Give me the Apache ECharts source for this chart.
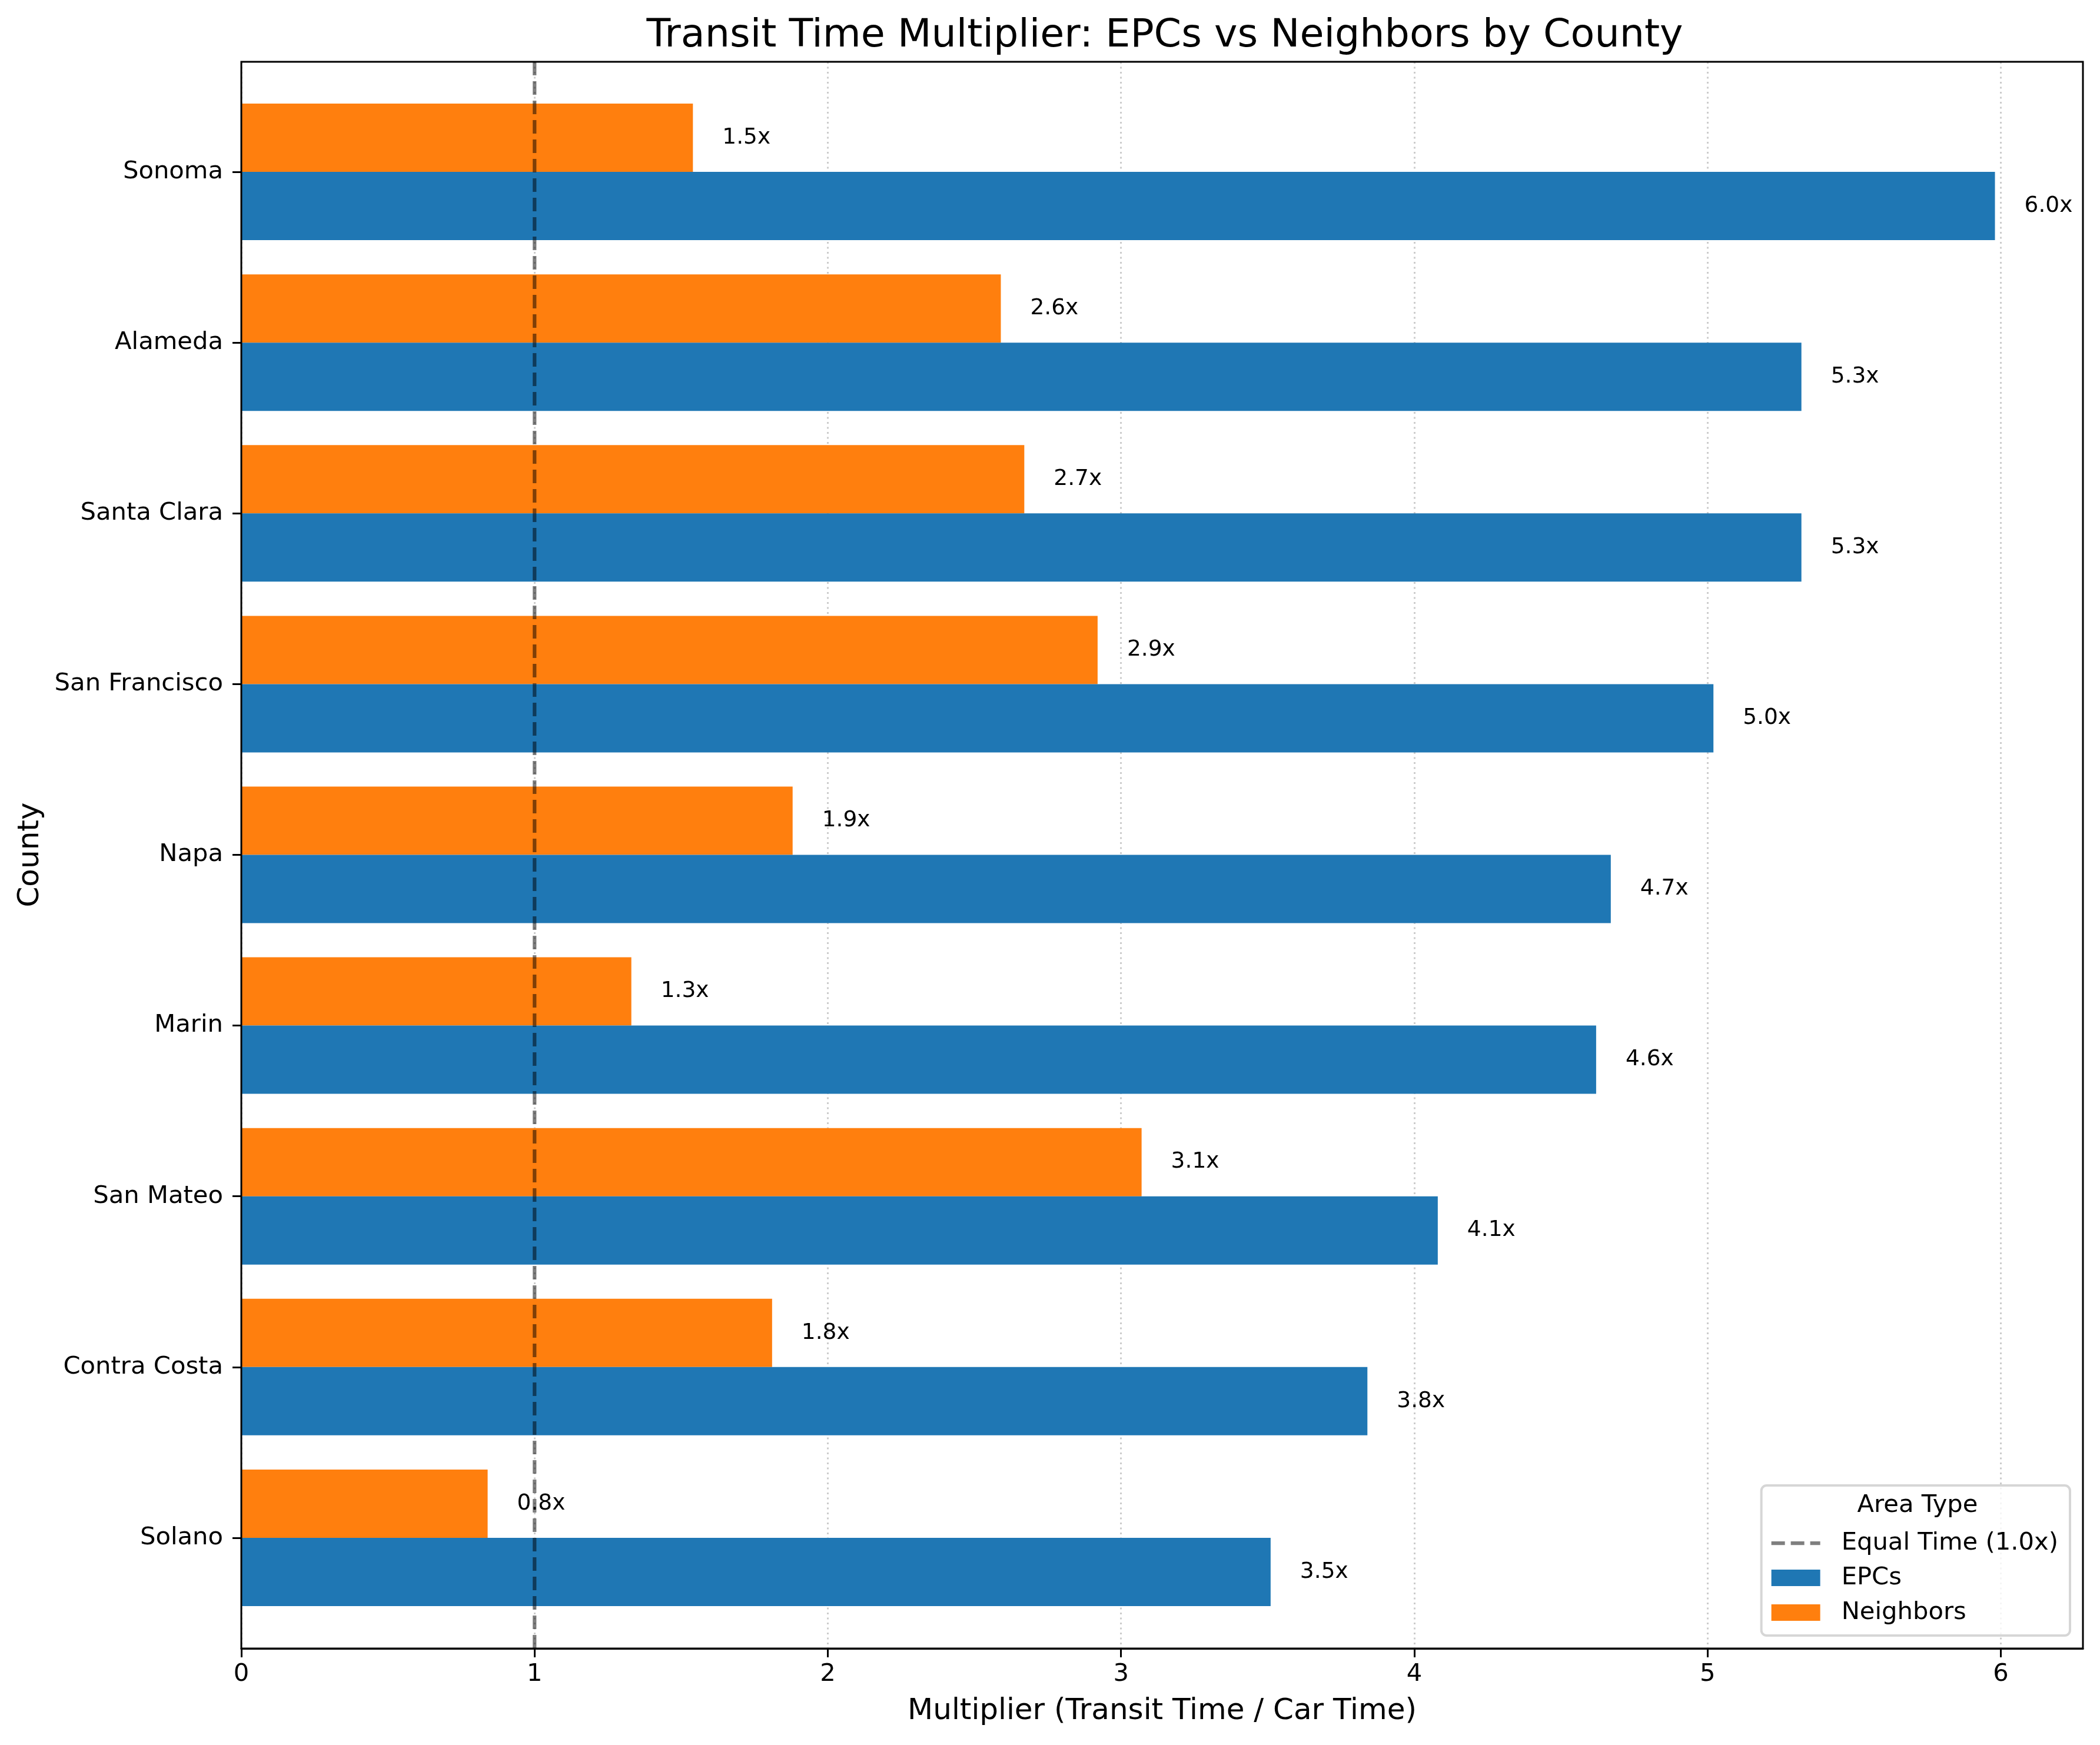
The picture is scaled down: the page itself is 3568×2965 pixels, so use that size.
<!DOCTYPE html>
<html>
<head>
<meta charset="utf-8">
<title>Transit Time Multiplier</title>
<script src="https://cdn.jsdelivr.net/npm/echarts@6/dist/echarts.min.js"></script>
<style>
  html, body { margin: 0; padding: 0; background: #fff; }
  #main { width: 3568px; height: 2965px; }
</style>
</head>
<body>
<div id="main"></div>
<script>
// data, top to bottom
var counties = ['Sonoma', 'Alameda', 'Santa Clara', 'San Francisco', 'Napa', 'Marin', 'San Mateo', 'Contra Costa', 'Solano'];
var epcs = [5.98, 5.32, 5.32, 5.02, 4.67, 4.62, 4.08, 3.84, 3.51];
var neighbors = [1.54, 2.59, 2.67, 2.92, 1.88, 1.33, 3.07, 1.81, 0.84];
var xTicks = [0, 1, 2, 3, 4, 5, 6];
var equalTime = 1.0;

var FONT = 'DejaVu Sans';
var xMax = 6.28;
var DASH_ICON = 'path://M0,0H23V6.25H0Z M33,0H56V6.25H33Z M66,0H83V6.25H66Z';

var chart = echarts.init(document.getElementById('main'), null, { renderer: 'canvas', devicePixelRatio: 1 });

// label next to each bar, like "6.0x"
var valueLabel = {
  show: true,
  position: 'right',
  distance: 50,
  fontFamily: FONT,
  fontSize: 37.5,
  color: '#000',
  formatter: function (p) { return p.value.toFixed(1) + 'x'; }
};

chart.setOption({
  animation: false,
  backgroundColor: '#fff',
  title: {
    text: 'Transit Time Multiplier: EPCs vs Neighbors by County',
    left: 1974,
    top: 23,
    textAlign: 'center',
    textStyle: { fontFamily: FONT, fontSize: 66.7, fontWeight: 'normal', color: '#000' }
  },
  legend: {
    orient: 'vertical',
    right: 51,
    top: 2524,
    padding: [77, 20, 18, 17],
    icon: 'rect',
    itemWidth: 83,
    itemHeight: 28,
    itemGap: 17,
    backgroundColor: 'rgba(255,255,255,0.8)',
    borderColor: '#d6d6d6',
    borderWidth: 4,
    borderRadius: 9,
    z: 20,
    textStyle: { fontFamily: FONT, fontSize: 41.7, color: '#000', padding: [0, 0, 0, 31] },
    data: [
      { name: 'Equal Time (1.0x)', icon: DASH_ICON },
      'EPCs',
      'Neighbors'
    ]
  },
  graphic: [{
    type: 'text',
    x: 3258,
    y: 2558,
    z: 100,
    style: {
      text: 'Area Type',
      fontFamily: FONT,
      fontSize: 41.7,
      fill: '#000',
      align: 'center',
      verticalAlign: 'middle'
    }
  }],
  grid: [
    // bars and county labels
    { left: 410, right: 29, top: 147, height: 2611, show: false },
    // frame, x axis and reference line
    { left: 410, right: 29, top: 105, bottom: 164, show: true, z: 10,
      backgroundColor: 'transparent', borderColor: '#000', borderWidth: 3 }
  ],
  xAxis: [
    { gridIndex: 0, type: 'value', min: 0, max: xMax, show: false },
    {
      gridIndex: 1, type: 'value', min: 0, max: xMax, interval: 1,
      name: 'Multiplier (Transit Time / Car Time)',
      nameLocation: 'middle',
      nameGap: 82,
      nameTextStyle: { fontFamily: FONT, fontSize: 50, color: '#000' },
      axisLine: { show: true, lineStyle: { color: '#000', width: 3 } },
      axisTick: { show: true, length: 15, lineStyle: { color: '#000', width: 3 }, customValues: xTicks },
      axisLabel: { fontFamily: FONT, fontSize: 41.7, color: '#000', margin: 23, customValues: xTicks },
      splitLine: { show: true, lineStyle: { color: '#cccccc', width: 3, type: [3, 5.5] } }
    }
  ],
  yAxis: [
    {
      gridIndex: 0, type: 'category', inverse: true, data: counties,
      name: 'County',
      nameLocation: 'middle',
      nameGap: 333,
      nameRotate: 90,
      nameTextStyle: { fontFamily: FONT, fontSize: 50, color: '#000' },
      axisLine: { show: false },
      axisTick: { show: true, alignWithLabel: true, length: 15, lineStyle: { color: '#000', width: 3 } },
      axisLabel: { fontFamily: FONT, fontSize: 41.7, color: '#000', margin: 31 },
      splitLine: { show: false }
    },
    { gridIndex: 1, type: 'value', min: 0, max: 1, show: false }
  ],
  series: [
    {
      name: 'Neighbors',
      type: 'bar',
      xAxisIndex: 0, yAxisIndex: 0,
      data: neighbors,
      barWidth: 116,
      barGap: '0%',
      itemStyle: { color: '#ff7f0e' },
      label: valueLabel,
      z: 2
    },
    {
      name: 'EPCs',
      type: 'bar',
      xAxisIndex: 0, yAxisIndex: 0,
      data: epcs,
      barWidth: 116,
      barGap: '0%',
      itemStyle: { color: '#1f77b4' },
      label: valueLabel,
      z: 2
    },
    {
      name: 'Equal Time (1.0x)',
      type: 'line',
      xAxisIndex: 1, yAxisIndex: 1,
      data: [[equalTime, 0], [equalTime, 1]],
      symbol: 'none',
      z: 5,
      itemStyle: { color: 'rgba(0,0,0,0.5)' },
      lineStyle: { color: 'rgba(0,0,0,0.5)', width: 6.25, type: [23, 10] }
    }
  ]
});
</script>
</body>
</html>
